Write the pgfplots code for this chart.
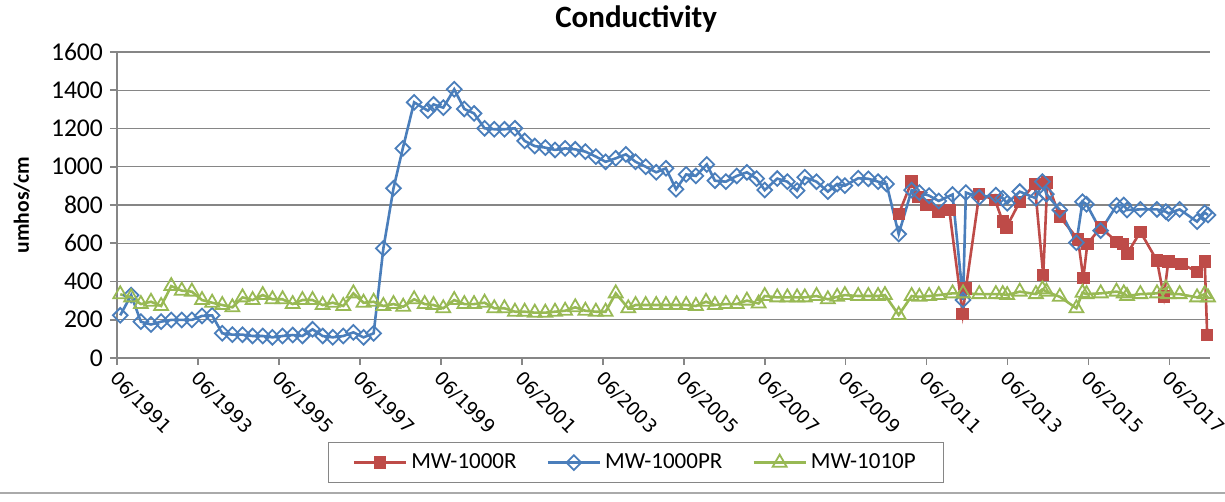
\documentclass[border=0pt]{standalone}
\usepackage{fontspec}
\setmainfont{Carlito}
\newfontfamily\tickfont{DejaVu Sans}
\usepackage{pgfplots}
\pgfplotsset{compat=1.18}
\definecolor{cred}{HTML}{BE4B48}
\definecolor{cblue}{HTML}{4A7EBB}
\definecolor{cgreen}{HTML}{98B954}
\definecolor{cgrid}{HTML}{868686}

\begin{document}
\begin{tikzpicture}
\path[use as bounding box] (-58.5pt,-72pt) rectangle (554pt,179pt);
\begin{axis}[
    scale only axis,
    width=546.5pt, height=153pt,
    xmin=0, xmax=27,
    ymin=0, ymax=1600,
    ytick={0,200,...,1600},
    xtick={0,2,...,26},
    xticklabels={06/1991,06/1993,06/1995,06/1997,06/1999,06/2001,06/2003,06/2005,06/2007,06/2009,06/2011,06/2013,06/2015,06/2017},
    axis x line*=bottom, axis y line*=left,
    axis line style={draw=cgrid, line width=0.8pt, -},
    tick align=outside,
    major tick length=3.5pt,
    tick style={draw=cgrid, line width=0.8pt},
    ymajorgrids,
    grid style={draw=cgrid, line width=0.7pt},
    /pgf/number format/assume math mode=true,
    /pgf/number format/1000 sep={},
    yticklabel style={font=\fontsize{12.8}{14}\selectfont},
    xticklabel style={font=\tickfont\fontsize{9.3}{11}\selectfont, rotate=-45, anchor=west, yshift=-5pt, xshift=-1pt},
    title={Conductivity},
    title style={font=\bfseries\fontsize{15.5}{17}\selectfont, at={(0.475,1)}, anchor=base, yshift=6pt},
    ylabel={umhos/cm},
    ylabel style={font=\bfseries\fontsize{10.8}{12}\selectfont, at={(axis description cs:-0.087,0.5)}, anchor=center},
    legend columns=3,
    legend style={at={(0.475,0)}, anchor=north, yshift=-42pt, draw=cgrid, line width=0.7pt,
        font=\fontsize{11.5}{13}\selectfont, inner ysep=3.5pt, inner xsep=12pt,
        /tikz/every even column/.append style={column sep=13pt}},
    legend image code/.code={\draw[mark repeat=2, mark phase=2] plot coordinates {(0pt,0pt) (13pt,0pt) (26pt,0pt)};},
]

\addplot[cred, line width=1.3pt, mark=square*, mark size=2.8pt, mark options={fill=cred, line width=0.6pt}] coordinates {
(19.31,753) (19.63,922) (19.79,843) (20.00,800) (20.29,765) (20.56,774)
(20.89,230) (20.97,364) (21.30,857) (21.69,826) (21.88,713) (21.97,683)
(22.30,817) (22.67,910) (22.88,434) (22.98,917) (23.29,739) (23.74,620)
(23.87,417) (23.97,596) (24.30,683) (24.69,608) (24.85,596) (24.96,547)
(25.28,660) (25.69,509) (25.86,321) (25.97,504) (26.30,492) (26.68,451)
(26.87,504) (26.93,120)
};

\addplot[cblue, line width=1.3pt, mark=square, mark size=2.6pt, mark options={rotate=45, fill=white, line width=0.9pt}] coordinates {
(0.08,223) (0.35,329) (0.59,190) (0.84,175) (1.09,190) (1.34,199) (1.60,199)
(1.85,199) (2.10,220) (2.35,223) (2.60,129) (2.85,122) (3.10,122) (3.35,115)
(3.60,115) (3.84,108) (4.09,115) (4.34,120) (4.58,115) (4.83,150) (5.08,115)
(5.33,108) (5.59,115) (5.84,134) (6.09,108) (6.34,129) (6.58,573) (6.83,887)
(7.06,1096) (7.34,1337) (7.68,1293) (7.82,1326) (8.06,1309) (8.33,1405)
(8.58,1302) (8.82,1279) (9.08,1201) (9.32,1196) (9.57,1196) (9.83,1201)
(10.07,1135) (10.32,1108) (10.58,1100) (10.82,1088) (11.07,1096) (11.32,1091)
(11.57,1079) (11.83,1053) (12.07,1026) (12.32,1044) (12.57,1065) (12.81,1026)
(13.06,1000) (13.32,971) (13.56,992) (13.81,882) (14.06,960) (14.30,952)
(14.57,1012) (14.77,927) (15.04,922) (15.31,952) (15.56,971) (15.80,938)
(16.00,878) (16.31,938) (16.56,922) (16.80,875) (16.99,945) (17.28,922)
(17.56,870) (17.79,910) (17.98,901) (18.31,940) (18.56,937) (18.80,922)
(19.01,910) (19.31,648) (19.63,878) (19.82,865) (20.06,849) (20.30,821)
(20.64,855) (20.90,303) (20.97,865) (21.30,840) (21.71,852) (21.88,835)
(21.99,809) (22.30,870) (22.70,835) (22.86,922) (22.96,857) (23.29,774)
(23.70,603) (23.85,817) (23.95,804) (24.30,666) (24.69,797) (24.87,800)
(24.95,774) (25.28,777) (25.69,777) (25.91,765) (25.97,756) (26.25,777)
(26.68,713) (26.87,760) (26.95,748)
};

\addplot[cgreen, line width=1.3pt, mark=triangle, mark size=4pt, mark options={fill=white, line width=0.9pt}] coordinates {
(0.08,333) (0.35,317) (0.59,282) (0.84,294) (1.09,272) (1.34,376) (1.60,352)
(1.85,347) (2.10,303) (2.35,289) (2.60,277) (2.85,265) (3.10,317) (3.35,303)
(3.60,329) (3.84,307) (4.09,307) (4.34,282) (4.58,303) (4.83,303) (5.08,277)
(5.33,289) (5.59,272) (5.84,338) (6.09,289) (6.34,294) (6.58,272) (6.83,282)
(7.07,268) (7.34,307) (7.60,282) (7.82,277) (8.06,260) (8.33,303) (8.58,282)
(8.82,282) (9.08,289) (9.32,260) (9.57,260) (9.83,242) (10.07,242) (10.32,237)
(10.58,237) (10.82,242) (11.07,247) (11.32,265) (11.57,247) (11.83,242)
(12.07,242) (12.32,338) (12.63,260) (12.81,277) (13.06,277) (13.32,277)
(13.56,277) (13.81,277) (14.06,277) (14.30,272) (14.55,294) (14.77,277)
(15.04,282) (15.31,282) (15.56,300) (15.85,285) (16.00,324) (16.31,317)
(16.56,317) (16.80,317) (16.99,317) (17.28,324) (17.56,307) (17.79,320)
(17.98,329) (18.31,324) (18.56,324) (18.80,324) (18.97,329) (19.31,225)
(19.63,324) (19.82,320) (20.06,324) (20.30,329) (20.64,338) (20.90,338)
(21.30,334) (21.71,334) (21.88,334) (21.99,329) (22.30,347) (22.70,334)
(22.86,359) (22.96,347) (23.29,320) (23.70,260) (23.85,341) (23.95,334)
(24.30,338) (24.69,347) (24.87,338) (24.95,324) (25.28,334) (25.69,338)
(25.91,364) (25.97,334) (26.25,334) (26.68,317) (26.87,334) (26.95,317)
};

\legend{MW-1000R, MW-1000PR, MW-1010P}
\end{axis}
\draw[cgrid!70, line width=0.6pt] (-58.5pt,-67.5pt) -- (554pt,-67.5pt);
\end{tikzpicture}
\end{document}
